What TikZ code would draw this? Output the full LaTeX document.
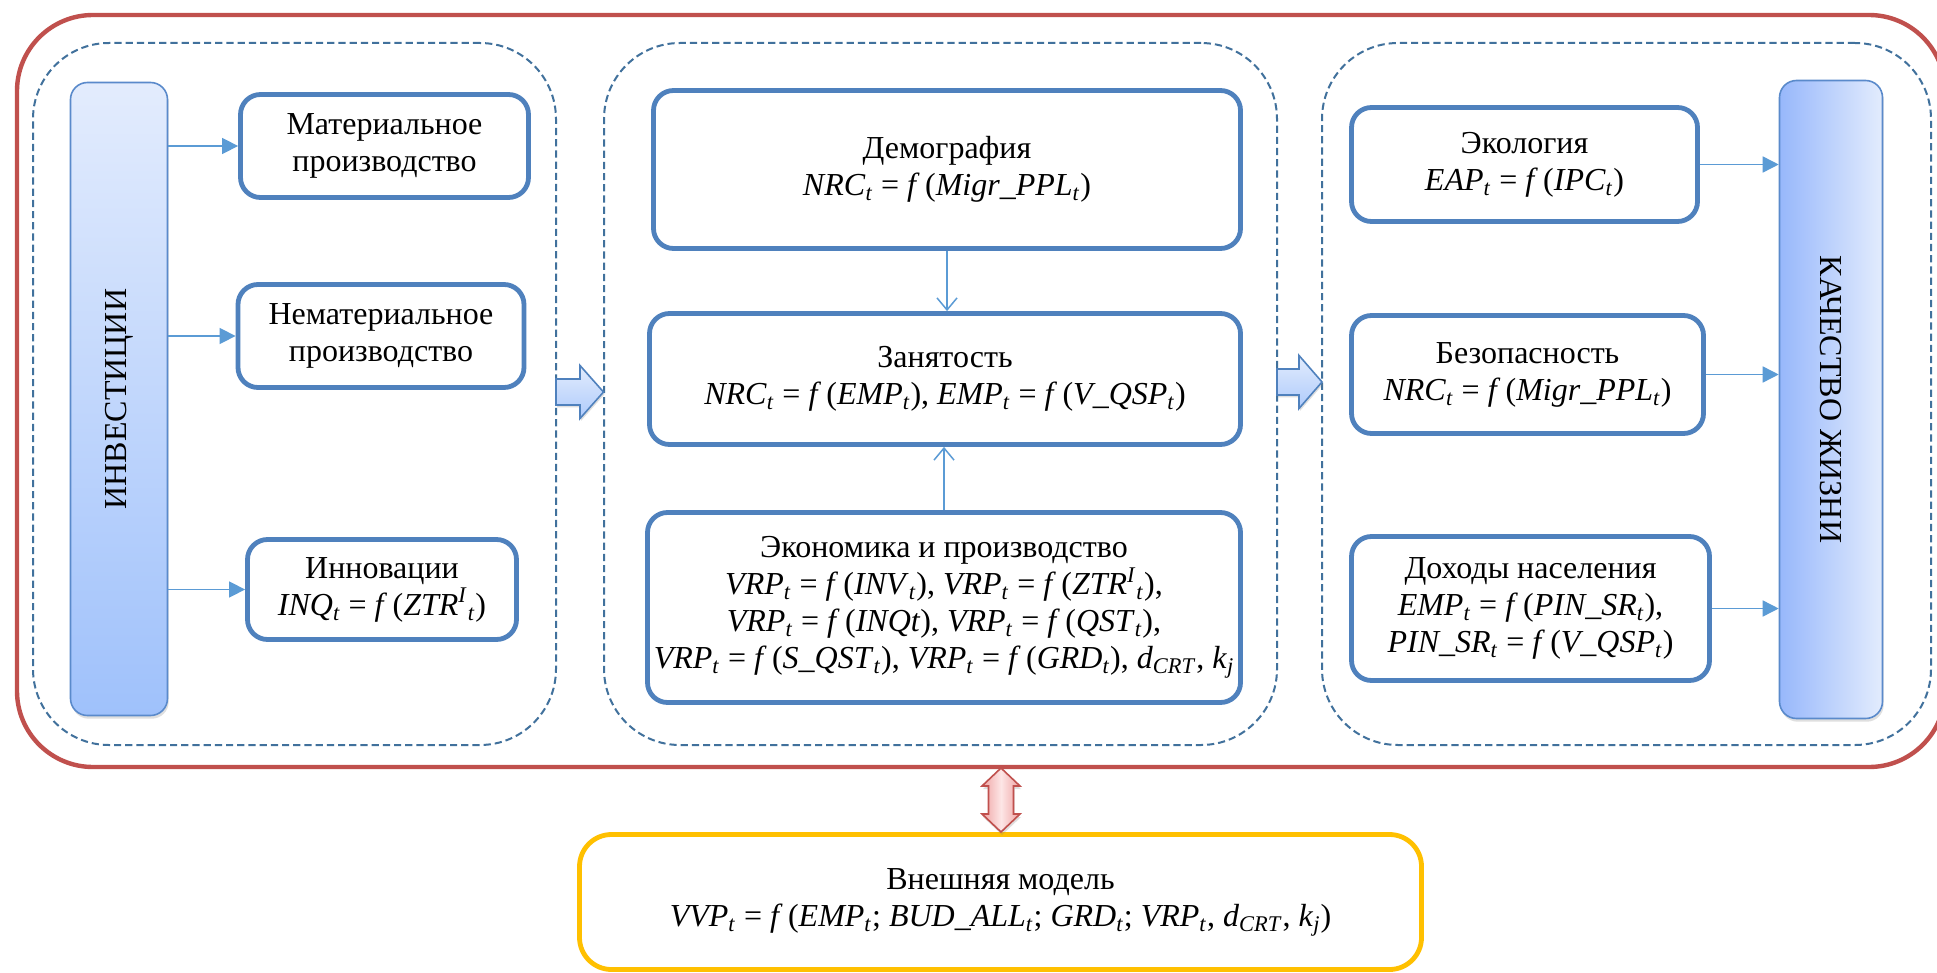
\documentclass[tikz,border=0pt]{standalone}
\usepackage{fontspec}
\setmainfont{Liberation Serif}
\usetikzlibrary{arrows.meta,shadows}
\definecolor{boxblue}{HTML}{4F81BD}
\definecolor{dashblue}{HTML}{41719C}
\definecolor{arrblue}{HTML}{5B9BD5}
\definecolor{framered}{HTML}{C0504D}
\definecolor{extyellow}{HTML}{FFC000}
\definecolor{barlight}{HTML}{E3ECFD}
\definecolor{bardark}{HTML}{9FC1FB}
\definecolor{barline}{HTML}{5A8ACB}
\definecolor{pinklight}{HTML}{FDE6E6}
\definecolor{pinkdark}{HTML}{EFA3A3}
\newcommand\vr[1]{\textit{#1}}
\newcommand\sbs[1]{\textsubscript{\textit{#1}}}
\newcommand\fn{\textit{f}\,}
\begin{document}
\begin{tikzpicture}[x=0.5pt,y=-0.5pt,
  txt/.style={font=\fontsize{16}{18.5}\selectfont},
  bbox/.style={draw=boxblue, line width=2.4pt, rounded corners=10pt, fill=white,
    align=center, inner sep=0pt, txt},
  group/.style={draw=dashblue, line width=1pt, dash pattern=on 3.6pt off 2pt,
    rounded corners=38pt, inner sep=0pt},
  redframe/.style={draw=framered, line width=2.2pt, rounded corners=38pt},
  ybox/.style={draw=extyellow, line width=2.4pt, rounded corners=16pt, fill=white,
    align=center, inner sep=0pt, txt},
  bar/.style={draw=barline, line width=0.8pt, rounded corners=8.5pt, inner sep=0pt,
    drop shadow={shadow xshift=0.6pt, shadow yshift=-1.6pt, opacity=0.25}},
  conn/.style={draw=arrblue, line width=0.75pt, -{Triangle[length=8pt,width=8pt]}},
  vconn/.style={draw=arrblue, line width=0.75pt, -{Straight Barb[length=6pt,width=10pt]}},
  barrow/.style={draw=boxblue, line width=0.8pt, top color=barlight, bottom color=bardark!85,
    drop shadow={shadow xshift=0.5pt, shadow yshift=-1.2pt, opacity=0.25}},
  darrow/.style={draw=framered, line width=0.8pt, left color=pinkdark, right color=pinkdark,
    middle color=pinklight,
    drop shadow={shadow xshift=0.5pt, shadow yshift=-1.5pt, opacity=0.25}}
]
\useasboundingbox (0,0) rectangle (1937,973);
\clip (0,0) rectangle (1937,973);
\fill[white] (0,0) rectangle (1937,973);

% outer red frame
\draw[redframe] (17,15) rectangle (1945,767);

% dashed groups
\node[group, minimum width=261.5pt, minimum height=351pt] (gL) at (294.5,394) {};
\node[group, minimum width=336.5pt, minimum height=351pt] (gM) at (940.5,394) {};
\node[group, minimum width=304.5pt, minimum height=351pt] (gR) at (1626.5,394) {};

% bars
\node[bar, top color=barlight, bottom color=bardark, minimum width=48.5pt, minimum height=316.5pt] (inv) at (119,399) {};
\node[txt, rotate=90, inner sep=0pt] (invt) at (inv.center) {ИНВЕСТИЦИИ};
\node[bar, left color=bardark!95!blue, right color=barlight, minimum width=51.5pt, minimum height=319pt] (kach) at (1831,399.5) {};
\node[txt, rotate=-90, inner sep=0pt] (kacht) at (kach.center) {КАЧЕСТВО ЖИЗНИ};

% left boxes
\node[bbox, minimum width=144pt, minimum height=51.5pt] (mat) at (384.5,146) {Материальное\\производство};
\node[bbox, minimum width=143pt, minimum height=51.5pt] (nemat) at (381,336) {Нематериальное\\производство};
\node[bbox, minimum width=134.5pt, minimum height=50pt] (inn) at (382,589.5) {Инновации\\\vr{INQ}\sbs{t} = \fn(\vr{ZTR}\textsuperscript{\vr{I}}\sbs{t})};

% middle boxes
\node[bbox, minimum width=293.5pt, minimum height=79pt] (dem) at (947,169.5) {Демография\\\vr{NRC}\sbs{t} = \fn(\vr{Migr\_PPL}\sbs{t})};
\node[bbox, minimum width=295.5pt, minimum height=65.5pt] (zan) at (945,379) {Занятость\\\vr{NRC}\sbs{t} = \fn(\vr{EMP}\sbs{t}), \vr{EMP}\sbs{t} = \fn(\vr{V\_QSP}\sbs{t})};
\node[bbox, minimum width=296.5pt, minimum height=95pt] (eko) at (944,607.5) {Экономика и производство\\
\vr{VRP}\sbs{t} = \fn(\vr{INV}\sbs{t}), \vr{VRP}\sbs{t} = \fn(\vr{ZTR}\textsuperscript{\vr{I}}\sbs{t}),\\
\vr{VRP}\sbs{t} = \fn(\vr{INQt}), \vr{VRP}\sbs{t} = \fn(\vr{QST}\sbs{t}),\\
\vr{VRP}\sbs{t} = \fn(\vr{S\_QST}\sbs{t}), \vr{VRP}\sbs{t} = \fn(\vr{GRD}\sbs{t}), \vr{d}\sbs{CRT}, \vr{k}\sbs{j}};

% right boxes
\node[bbox, minimum width=173pt, minimum height=57pt] (eco) at (1524.5,164.5) {Экология\\\vr{EAP}\sbs{t} = \fn(\vr{IPC}\sbs{t})};
\node[bbox, minimum width=176pt, minimum height=59pt] (bez) at (1527.5,374.5) {Безопасность\\\vr{NRC}\sbs{t} = \fn(\vr{Migr\_PPL}\sbs{t})};
\node[bbox, minimum width=179pt, minimum height=72pt] (doh) at (1530.5,608.5) {Доходы населения\\\vr{EMP}\sbs{t} = \fn(\vr{PIN\_SR}\sbs{t}),\\\vr{PIN\_SR}\sbs{t} = \fn(\vr{V\_QSP}\sbs{t})};

% external model
\node[ybox, minimum width=421pt, minimum height=67.5pt] (ext) at (1000.5,902) {Внешняя модель\\\vr{VVP}\sbs{t} = \fn(\vr{EMP}\sbs{t}; \vr{BUD\_ALL}\sbs{t}; \vr{GRD}\sbs{t}; \vr{VRP}\sbs{t}, \vr{d}\sbs{CRT}, \vr{k}\sbs{j})};

% connectors
\draw[conn] (inv.east |- mat.west) -- (mat.west);
\draw[conn] (inv.east |- nemat.west) -- (nemat.west);
\draw[conn] (inv.east |- inn.west) -- (inn.west);
\draw[vconn] (dem.south) -- (dem.south |- zan.north);
\draw[vconn] (eko.north) -- (eko.north |- zan.south);
\draw[conn] (eco.east) -- (eco.east -| kach.west);
\draw[conn] (bez.east) -- (bez.east -| kach.west);
\draw[conn] (doh.east) -- (doh.east -| kach.west);

% block arrows
\draw[barrow] (556,379) -- (580,379) -- (580,365.5) -- (603.5,392) -- (580,418.5) -- (580,405) -- (556,405) -- cycle;
\draw[barrow] (1277,369) -- (1299,369) -- (1299,355.5) -- (1322,382) -- (1299,408.5) -- (1299,395) -- (1277,395) -- cycle;

% double arrow between frame and external model
\draw[darrow] (1001,768) -- (1020,786) -- (1013.5,786) -- (1013.5,814) -- (1020,814) -- (1001,832) -- (982,814) -- (988.5,814) -- (988.5,786) -- (982,786) -- cycle;
\end{tikzpicture}
\end{document}
